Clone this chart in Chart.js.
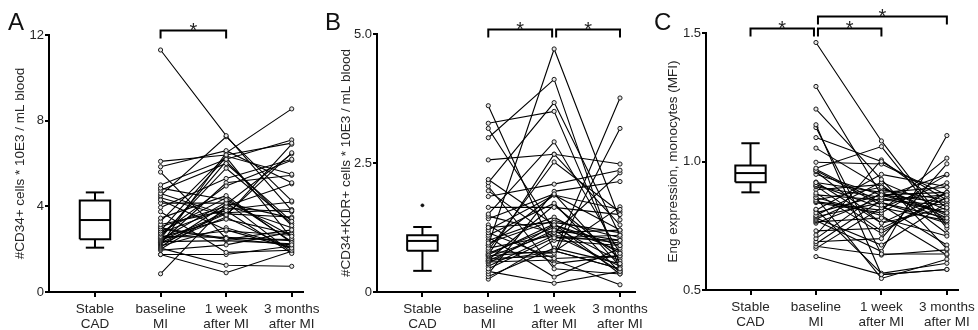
<!DOCTYPE html>
<html><head><meta charset="utf-8">
<script src="https://cdn.jsdelivr.net/npm/chart.js@4"></script>
<style>
html,body{margin:0;padding:0;background:#fff;}
#wrap{position:relative;width:978px;height:330px;overflow:hidden;background:#fff;}
canvas{position:absolute;top:0;}
.lbl{position:absolute;font-family:"Liberation Sans",Arial,sans-serif;font-size:24px;color:#111;line-height:24px;}
</style></head><body>
<div id="wrap">
<canvas id="cA" width="322" height="330" style="left:0px"></canvas>
<canvas id="cB" width="326" height="330" style="left:322px"></canvas>
<canvas id="cC" width="330" height="330" style="left:648px"></canvas>
<div class="lbl" style="left:8px;top:10px">A</div>
<div class="lbl" style="left:325px;top:10px">B</div>
<div class="lbl" style="left:654px;top:10px">C</div>
</div>
<script>
// ---------- data ----------
const CATEGORIES = [['Stable', 'CAD'], ['baseline', 'MI'], ['1 week', 'after MI'], ['3 months', 'after MI']];

// Panel A: #CD34+ cells
const A_TICKS = [0, 4, 8, 12];
const A_TICK_LABELS = ['0', '4', '8', '12'];
const A_BOX = [2.07, 2.46, 3.36, 4.27, 4.65]; // min, q1, median, q3, max
const A_OUTLIERS = [];
const A_BASE = [11.3, 6.1, 5.85, 5.6, 5.0, 4.85, 4.75, 4.6, 4.5, 4.3, 4.15, 3.95, 3.75, 3.45, 3.3, 3.15, 3.05, 2.95, 2.85, 2.75, 2.7, 2.6, 2.55, 2.5, 2.45, 2.4, 2.35, 2.3, 2.25, 2.2, 2.15, 2.1, 2.05, 2.0, 1.95, 1.75, 1.75, 0.85, 2.6, 2.8, 3.0, 2.3, 4.4, 2.5];
const A_WEEK = [7.3, 6.4, 6.6, 2.5, 6.2, 4.3, 6.0, 3.6, 7.25, 2.9, 4.15, 5.3, 1.85, 4.5, 6.35, 3.8, 4.0, 2.45, 6.3, 3.9, 4.95, 2.55, 3.4, 6.1, 4.2, 3.7, 2.4, 5.1, 3.5, 6.5, 3.0, 4.1, 1.25, 3.85, 2.2, 1.75, 0.9, 4.05, 5.78, 4.4, 2.5, 3.65, 3.55, 2.85];
const A_MONTH = [3.8, 6.95, 5.1, 2.2, 7.1, 2.6, 3.3, 6.5, 4.25, 2.05, 3.45, 6.2, 1.95, 2.3, 5.5, 1.8, 5.05, 2.9, 2.5, 3.75, 6.15, 2.4, 2.7, 3.1, 1.85, 3.85, 2.25, 5.45, 2.0, 8.55, 2.1, 6.45, 1.2, 4.2, 2.8, 2.15, 1.9, 3.0, 3.2, 2.35, 2.45, 3.5, 6.9, 2.65];
const A_BRACKETS = [[2, 3, 0]]; // from category, to category, level

// Panel B: #CD34+KDR+ cells
const B_TICKS = [0, 2.5, 5];
const B_TICK_LABELS = ['0', '2.5', '5.0'];
const B_BOX = [0.41, 0.80, 0.99, 1.10, 1.26];
const B_OUTLIERS = [1.68];
const B_BASE = [3.61, 3.27, 3.17, 2.99, 2.56, 2.18, 2.12, 2.05, 1.96, 1.85, 1.64, 1.51, 1.47, 1.42, 1.25, 1.2, 1.15, 1.1, 1.06, 0.95, 0.91, 0.85, 0.81, 0.78, 0.75, 0.72, 0.7, 0.68, 0.65, 0.62, 0.6, 0.58, 0.55, 0.45, 0.4, 0.35, 0.3, 0.25, 1.0, 0.6, 0.5, 0.72, 1.3, 0.9];
const B_WEEK = [0.8, 3.5, 1.2, 4.12, 2.67, 1.3, 3.67, 0.45, 1.05, 2.09, 1.64, 2.91, 1.15, 1.9, 1.35, 1.88, 0.65, 1.72, 0.29, 1.39, 4.71, 1.1, 2.52, 0.75, 1.25, 2.67, 0.8, 1.15, 0.7, 1.68, 1.2, 0.62, 1.3, 1.05, 0.17, 1.95, 0.85, 1.0, 1.45, 0.78, 1.1, 1.32, 0.55, 1.88];
const B_MONTH = [0.45, 0.55, 0.4, 0.42, 2.48, 0.9, 1.1, 0.35, 1.0, 2.36, 1.5, 0.75, 1.2, 0.5, 1.15, 1.6, 0.7, 0.38, 0.85, 1.05, 1.4, 0.95, 1.55, 3.76, 0.6, 1.3, 0.45, 2.31, 3.17, 0.65, 1.0, 0.14, 0.8, 1.1, 0.4, 2.14, 0.55, 0.9, 0.75, 1.65, 0.5, 0.35, 0.7, 1.2];
const B_BRACKETS = [[2, 3, 0], [3, 4, 0]];

// Panel C: Eng expression, monocytes
const C_TICKS = [0.5, 1.0, 1.5];
const C_TICK_LABELS = ['0.5', '1.0', '1.5'];
const C_BOX = [0.880, 0.919, 0.955, 0.984, 1.071];
const C_OUTLIERS = [];
const C_BASE = [1.463, 1.292, 1.204, 1.143, 1.132, 1.093, 1.052, 0.997, 0.974, 0.965, 0.961, 0.918, 0.91, 0.905, 0.902, 0.877, 0.87, 0.86, 0.85, 0.844, 0.814, 0.80, 0.79, 0.785, 0.78, 0.775, 0.77, 0.765, 0.76, 0.714, 0.70, 0.688, 0.68, 0.67, 0.662, 0.63, 0.84, 0.89, 0.97, 0.92, 0.81, 0.95, 0.86, 0.73];
const C_WEEK = [1.08, 0.87, 0.93, 0.56, 0.64, 1.00, 0.90, 0.99, 1.058, 0.83, 0.76, 0.88, 0.82, 0.73, 0.86, 0.72, 0.85, 0.545, 0.90, 0.81, 0.565, 0.87, 0.92, 0.84, 0.675, 0.89, 0.65, 0.78, 0.86, 1.006, 0.88, 0.70, 0.85, 0.636, 0.82, 0.56, 0.80, 0.91, 0.84, 0.76, 0.95, 0.87, 0.79, 0.74];
const C_MONTH = [0.75, 0.80, 0.66, 0.58, 0.64, 0.85, 0.78, 0.87, 0.74, 0.675, 0.82, 0.90, 0.77, 0.86, 0.95, 0.88, 0.83, 0.62, 0.79, 1.013, 0.604, 0.88, 0.81, 0.76, 0.84, 0.85, 1.101, 0.71, 0.80, 0.82, 0.77, 0.991, 0.87, 0.656, 0.917, 0.58, 0.948, 0.72, 0.78, 0.88, 0.902, 0.84, 0.636, 0.86];
const C_BRACKETS = [[1, 2, 0], [2, 3, 0], [2, 4, 1]];

// ---------- drawing ----------
const FONT = '"Liberation Sans", Arial, Helvetica, sans-serif';
const TXT = '#262626';
const BOX_HALF = 0.232, CAP_HALF = 0.14;

function bracketPlugin(items) {
  return {
    id: 'brackets',
    afterDraw(chart) {
      const ctx = chart.ctx, xs = chart.scales.x, top = chart.chartArea.top;
      const ends = {};
      items.forEach(b => { ends[b[0]] = (ends[b[0]] || 0) | 1; ends[b[1]] = (ends[b[1]] || 0) | 2; });
      ctx.save();
      ctx.strokeStyle = '#000'; ctx.lineWidth = 2; ctx.fillStyle = '#222';
      ctx.font = '20px ' + FONT; ctx.textAlign = 'center'; ctx.textBaseline = 'alphabetic';
      items.forEach(b => {
        let x1 = xs.getPixelForValue(b[0]), x2 = xs.getPixelForValue(b[1]);
        if (ends[b[0]] === 3) x1 += 2;
        if (ends[b[1]] === 3) x2 -= 2;
        const y = Math.round(top - 5 - b[2] * 12) + 0.5;
        ctx.beginPath();
        ctx.moveTo(x1, y + 8); ctx.lineTo(x1, y); ctx.lineTo(x2, y); ctx.lineTo(x2, y + 8);
        ctx.stroke();
        ctx.fillText('*', (x1 + x2) / 2, y + 6);
      });
      ctx.restore();
    }
  };
}

function makePanel(id, p) {
  const ds = [];
  const [mn, q1, md, q3, mx] = p.box;
  const lineDs = (data, w) => ({ data, showLine: true, borderColor: '#000', borderWidth: w, pointRadius: 0, tension: 0, fill: false });
  ds.push(lineDs([{x: 1 - BOX_HALF, y: q1}, {x: 1 + BOX_HALF, y: q1}, {x: 1 + BOX_HALF, y: q3}, {x: 1 - BOX_HALF, y: q3}, {x: 1 - BOX_HALF, y: q1}], 2));
  ds.push(lineDs([{x: 1 - BOX_HALF, y: md}, {x: 1 + BOX_HALF, y: md}], 2));
  ds.push(lineDs([{x: 1, y: q3}, {x: 1, y: mx}], 2));
  ds.push(lineDs([{x: 1, y: q1}, {x: 1, y: mn}], 2));
  ds.push(lineDs([{x: 1 - CAP_HALF, y: mx}, {x: 1 + CAP_HALF, y: mx}], 2));
  ds.push(lineDs([{x: 1 - CAP_HALF, y: mn}, {x: 1 + CAP_HALF, y: mn}], 2));
  if (p.outliers.length) {
    ds.push({ data: p.outliers.map(v => ({x: 1, y: v})), showLine: false, pointRadius: 1.6, pointBorderWidth: 0.5,
      pointBackgroundColor: '#111', pointBorderColor: '#111' });
  }
  for (let i = 0; i < p.base.length; i++) {
    ds.push({
      data: [{x: 2, y: p.base[i]}, {x: 3, y: p.week[i]}, {x: 4, y: p.month[i]}],
      showLine: true, borderColor: '#000', borderWidth: 1.1, tension: 0, fill: false,
      pointRadius: 2.1, pointBorderWidth: 1, pointBorderColor: '#1a1a1a', pointBackgroundColor: '#e6e6e6'
    });
  }
  new Chart(document.getElementById(id), {
    type: 'scatter',
    data: { datasets: ds },
    options: {
      responsive: false, animation: false, events: [],
      layout: { padding: { top: p.top, right: p.padRight, left: 0, bottom: 0 } },
      plugins: { legend: { display: false }, tooltip: { enabled: false } },
      scales: {
        x: {
          type: 'linear', min: p.xmin, max: p.xmax,
          afterBuildTicks: s => { s.ticks = [1, 2, 3, 4].map(v => ({ value: v })); },
          afterFit: s => { s.height = p.xh; s.paddingLeft = 0; s.paddingRight = 0; },
          ticks: { callback: v => CATEGORIES[v - 1], autoSkip: false, maxRotation: 0, minRotation: 0,
            color: TXT, padding: 5, font: { family: FONT, size: 13.5, lineHeight: '15px' } },
          grid: { drawOnChartArea: false, drawTicks: true, tickLength: 5, color: '#000', lineWidth: 2 },
          border: { display: true, color: '#000', width: 2 }
        },
        y: {
          type: 'linear', min: p.ticks[0], max: p.ticks[p.ticks.length - 1],
          afterBuildTicks: s => { s.ticks = p.ticks.map(v => ({ value: v })); },
          afterFit: s => { s.width = p.yw; s.paddingTop = 0; s.paddingBottom = 0; },
          ticks: { callback: (v, i) => p.tickLabels[i], color: TXT, padding: 1, font: { family: FONT, size: 13 } },
          grid: { drawOnChartArea: false, drawTicks: true, tickLength: 4, color: '#000', lineWidth: 2 },
          border: { display: true, color: '#000', width: 2 },
          title: { display: true, text: p.title, color: TXT, font: { family: FONT, size: 13.5 }, padding: { top: p.titlePad, bottom: 0 } }
        }
      }
    },
    plugins: [bracketPlugin(p.brackets)]
  });
}

makePanel('cA', { box: A_BOX, outliers: A_OUTLIERS, base: A_BASE, week: A_WEEK, month: A_MONTH, brackets: A_BRACKETS,
  ticks: A_TICKS, tickLabels: A_TICK_LABELS, title: '#CD34+ cells * 10E3 / mL blood',
  xmin: 0.299, xmax: 4.172, top: 35, padRight: 19, yw: 49, xh: 38, titlePad: 12.4 });
makePanel('cB', { box: B_BOX, outliers: B_OUTLIERS, base: B_BASE, week: B_WEEK, month: B_MONTH, brackets: B_BRACKETS,
  ticks: B_TICKS, tickLabels: B_TICK_LABELS, title: '#CD34+KDR+ cells * 10E3 / mL blood',
  xmin: 0.31, xmax: 4.228, top: 34, padRight: 13, yw: 55, xh: 38, titlePad: 15.9 });
makePanel('cC', { box: C_BOX, outliers: C_OUTLIERS, base: C_BASE, week: C_WEEK, month: C_MONTH, brackets: C_BRACKETS,
  ticks: C_TICKS, tickLabels: C_TICK_LABELS, title: 'Eng expression, monocytes (MFI)',
  xmin: 0.32, xmax: 4.17, top: 33, padRight: 20, yw: 58, xh: 40, titlePad: 16.9 });
</script>
</body></html>
